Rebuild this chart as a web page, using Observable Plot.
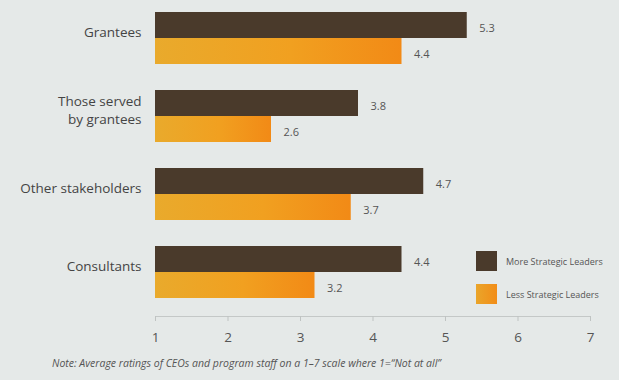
<!DOCTYPE html>
<html><head><meta charset="utf-8">
<script src="https://cdn.jsdelivr.net/npm/d3@7"></script>
<script src="https://cdn.jsdelivr.net/npm/@observablehq/plot@0.6"></script>
<style>
html,body{margin:0;padding:0;background:#e5e9e8;}
#page{position:relative;width:619px;height:380px;overflow:hidden;background:#e5e9e8;font-family:"Open Sans",sans-serif;}
#legend{position:absolute;left:476px;top:251px;font-size:9px;color:#555;}
.li{display:flex;align-items:center;height:20px;margin-bottom:13px;}
.sw{width:21px;height:20px;margin-right:9px;}
#note{position:absolute;left:52px;top:356px;white-space:nowrap;font-style:italic;font-size:10.5px;color:#555;}
</style></head><body>
<div id="page"><div id="chart"></div><div id="legend"></div><div id="note"></div></div>
<script>
const categories = ["Grantees", "Those served by grantees", "Other stakeholders", "Consultants"];
const categoryLabels = ["Grantees", "Those served\nby grantees", "Other stakeholders", "Consultants"];
const series = ["More Strategic Leaders", "Less Strategic Leaders"];
const moreValues = [5.3, 3.8, 4.7, 4.4];
const lessValues = [4.4, 2.6, 3.7, 3.2];
const xTicks = [1, 2, 3, 4, 5, 6, 7];
const noteText = "Note: Average ratings of CEOs and program staff on a 1\u20137 scale where 1=\u201CNot at all\u201D";

const darkColor = "#4a3a2b";
const orangeFill = "url(#orangeGrad)";

const rows = [];
categories.forEach((c, i) => {
  rows.push({category: c, series: series[0], value: moreValues[i]});
  rows.push({category: c, series: series[1], value: lessValues[i]});
});
const catRows = categories.map((c, i) => ({category: c, label: categoryLabels[i]}));

const chart = Plot.plot({
  width: 619,
  height: 348,
  marginLeft: 155,
  marginRight: 29,
  marginTop: 10,
  marginBottom: 30,
  style: {background: "transparent", fontFamily: "Open Sans, sans-serif", overflow: "visible"},
  x: {domain: [1, 7], axis: null},
  y: {domain: series, axis: null, padding: 0, insetBottom: 18},
  fy: {domain: categories, axis: null, paddingInner: 0.1, paddingOuter: 0},
  marks: [
    Plot.frame({anchor: "bottom", facetAnchor: "bottom", stroke: "#c4c8c7"}),
    Plot.axisX({ticks: xTicks, tickSize: 5, tickPadding: 11, stroke: "#bfc3c2", fill: "#555", fontSize: 13.5, label: null, tickFormat: d3.format("d")}),
    Plot.barX(rows.filter(d => d.series === series[0]), {fy: "category", y: "series", x1: 1, x2: "value", fill: darkColor}),
    Plot.barX(rows.filter(d => d.series === series[1]), {fy: "category", y: "series", x1: 1, x2: "value", fill: orangeFill}),
    Plot.text(rows, {fy: "category", y: "series", x: "value", text: d => d.value.toFixed(1), dx: 12, dy: 3, textAnchor: "start", fontSize: 11, fill: "#555"}),
    Plot.text(catRows, {fy: "category", y: () => series[0], x: 1, text: "label", textAnchor: "end", dx: -14, dy: 6, fontSize: 13.5, fill: "#444", lineHeight: 1.35})
  ]
});

const svg = d3.select(chart);
const defs = svg.insert("defs", ":first-child");
const g = defs.append("linearGradient").attr("id", "orangeGrad").attr("x1", "0").attr("x2", "1").attr("y1", "0").attr("y2", "0");
g.append("stop").attr("offset", "0").attr("stop-color", "#e9aa2c");
g.append("stop").attr("offset", "0.55").attr("stop-color", "#f1a020");
g.append("stop").attr("offset", "1").attr("stop-color", "#f28a16");
document.getElementById("chart").appendChild(chart);

const legend = d3.select("#legend");
series.forEach((s, i) => {
  const item = legend.append("div").attr("class", "li");
  item.append("div").attr("class", "sw")
    .style("background", i === 0 ? darkColor : "linear-gradient(90deg,#eaa52a,#f28d18)");
  item.append("span").text(s);
});
document.getElementById("note").textContent = noteText;
</script>
</body></html>
